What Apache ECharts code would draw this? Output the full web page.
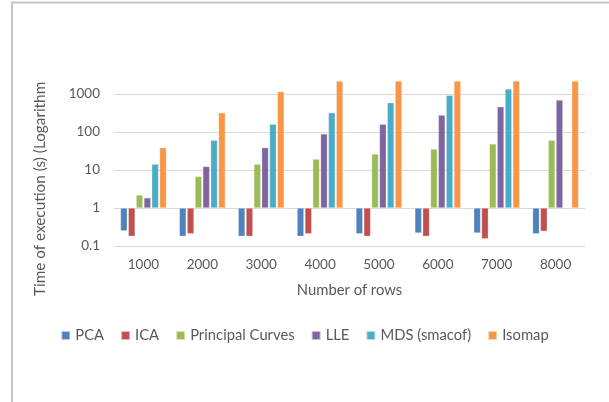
<!DOCTYPE html>
<html>
<head>
<meta charset="utf-8">
<script src="https://cdn.jsdelivr.net/npm/echarts@6/dist/echarts.min.js"></script>
<style>
  html, body { margin: 0; padding: 0; background: #fff; }
  #chart { width: 609px; height: 402px; }
</style>
</head>
<body>
<div id="chart"></div>
<script>
// Execution time (seconds) per method, by number of rows
const categories = ['1000', '2000', '3000', '4000', '5000', '6000', '7000', '8000'];
const pca = [0.25, 0.18, 0.18, 0.18, 0.21, 0.22, 0.22, 0.21];
const ica = [0.18, 0.21, 0.18, 0.21, 0.18, 0.18, 0.155, 0.245];
const principalCurves = [2.2, 6.8, 14.3, 19.4, 26.4, 35.7, 48.5, 60.7];
const lle = [1.85, 12.4, 38.8, 89, 161, 279, 463, 695];
const mds = [14.3, 60.7, 161, 321, 590, 924, 1359, null];
const isomap = [38.8, 321, 1156, 2200, 2200, 2200, 2200, 2200];

const seriesNames = ['PCA', 'ICA', 'Principal Curves', 'LLE', 'MDS (smacof)', 'Isomap'];
const seriesData = [pca, ica, principalCurves, lle, mds, isomap];
const colors = ['#4F81BD', '#C0504D', '#9BBB59', '#8064A2', '#4BACC6', '#F79646'];

const FONT = 'Lato, "Liberation Sans", sans-serif';
const TEXT = '#595959';

const chart = echarts.init(document.getElementById('chart'), null, { renderer: 'canvas' });

chart.setOption({
  animation: false,
  color: colors,
  textStyle: { fontFamily: FONT, color: TEXT },
  grid: { left: 114, right: 24, top: 81, bottom: 156, containLabel: false },
  legend: {
    data: seriesNames,
    bottom: 54,
    left: 'center',
    itemWidth: 9,
    itemHeight: 9,
    itemGap: 16,
    icon: 'rect',
    textStyle: { fontFamily: FONT, fontSize: 14.8, color: TEXT }
  },
  xAxis: {
    type: 'category',
    data: categories,
    name: 'Number of rows',
    nameLocation: 'middle',
    nameGap: 37,
    nameTextStyle: { fontFamily: FONT, fontSize: 14.8, color: TEXT },
    axisLine: { show: false },
    axisTick: { show: false },
    axisLabel: { fontFamily: FONT, fontSize: 13.5, color: TEXT, margin: 12 }
  },
  yAxis: {
    type: 'log',
    logBase: 10,
    min: 0.1,
    max: 2200,
    axisLine: { show: false },
    axisTick: { show: false },
    axisLabel: {
      fontFamily: FONT,
      fontSize: 13.5,
      color: TEXT,
      margin: 14,
      showMaxLabel: false,
      formatter: (v) => String(v)
    },
    splitLine: { show: true, showMaxLine: false, lineStyle: { color: '#D9D9D9', width: 1 } }
  },
  graphic: [
    {
      type: 'text',
      x: 40,
      y: 296,
      rotation: Math.PI / 2,
      style: {
        text: 'Time of execution (s) (Logarithmic scale)',
        fontFamily: FONT,
        fontSize: 15.3,
        fill: TEXT,
        align: 'left',
        verticalAlign: 'middle',
        width: 216,
        overflow: 'truncate',
        ellipsis: ''
      }
    },
    {
      type: 'line',
      shape: { x1: 12, y1: 2, x2: 12, y2: 402 },
      style: { stroke: '#C4C4C4', lineWidth: 2 }
    },
    {
      type: 'line',
      shape: { x1: 11, y1: 2.5, x2: 609, y2: 2.5 },
      style: { stroke: '#C4C4C4', lineWidth: 2 }
    }
  ],
  series: seriesNames.map((name, i) => ({
    name: name,
    type: 'bar',
    data: seriesData[i],
    barGap: '15%',
    barCategoryGap: '22%',
    clip: true,
    itemStyle: { color: colors[i], borderColor: 'rgba(255,255,255,0.6)', borderWidth: 0.5 }
  }))
});
</script>
</body>
</html>
